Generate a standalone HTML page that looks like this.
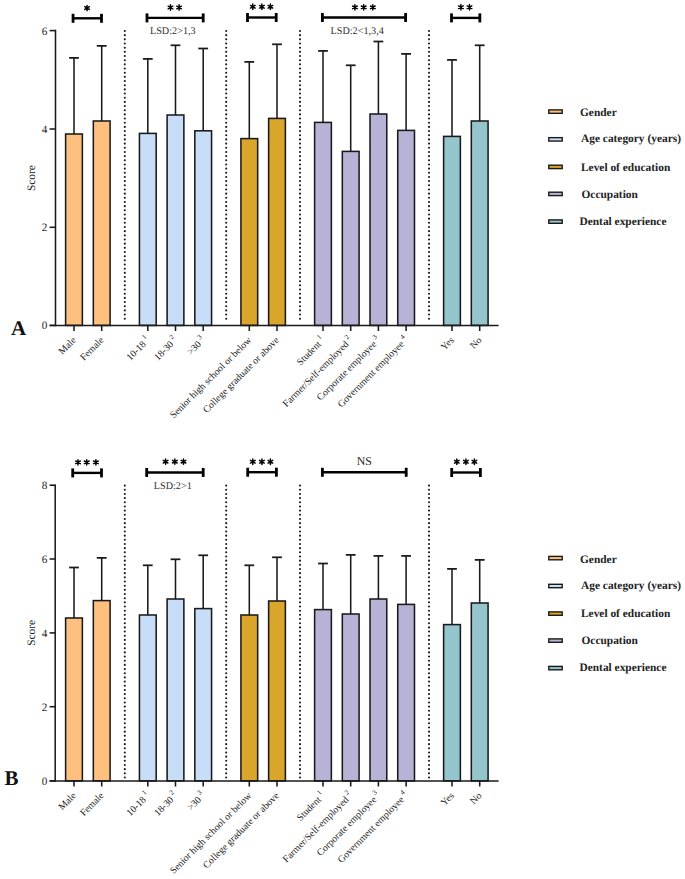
<!DOCTYPE html>
<html><head><meta charset="utf-8"><title>Score chart</title>
<style>
html,body{margin:0;padding:0;background:#fff;width:685px;height:879px;overflow:hidden;}
svg{display:block;}
text{font-family:"Liberation Serif",serif;text-rendering:geometricPrecision;}
.tk{font-size:11.2px;fill:#1e1e1e;}
.sc{font-size:11.4px;fill:#151515;}
.pl{font-size:21px;font-weight:bold;fill:#111;}
.st{font-family:"Liberation Sans",sans-serif;font-size:14px;font-weight:bold;fill:#111;letter-spacing:1.6px;}
.ns{font-size:11.8px;fill:#222;}
.lsd{font-size:10.2px;fill:#333;}
.xl{font-size:9.8px;fill:#222;}
.sup{font-size:7px;}
.lg{font-size:11.4px;font-weight:bold;fill:#222;}
</style></head>
<body>
<svg width="685" height="879" viewBox="0 0 685 879">
<line x1="124.8" y1="31.00" x2="124.8" y2="322.40" stroke="#1a1a1a" stroke-width="2.1" stroke-linecap="round" stroke-dasharray="0 4.17"/>
<line x1="226.2" y1="31.00" x2="226.2" y2="322.40" stroke="#1a1a1a" stroke-width="2.1" stroke-linecap="round" stroke-dasharray="0 4.17"/>
<line x1="300.0" y1="31.00" x2="300.0" y2="322.40" stroke="#1a1a1a" stroke-width="2.1" stroke-linecap="round" stroke-dasharray="0 4.17"/>
<line x1="429.0" y1="31.00" x2="429.0" y2="322.40" stroke="#1a1a1a" stroke-width="2.1" stroke-linecap="round" stroke-dasharray="0 4.17"/>
<line x1="74.00" y1="57.90" x2="74.00" y2="134.00" stroke="#1a1a1a" stroke-width="1.55"/>
<line x1="69.10" y1="57.90" x2="78.90" y2="57.90" stroke="#1a1a1a" stroke-width="1.75"/>
<rect x="65.62" y="134.00" width="16.75" height="191.40" fill="#FEC07F" stroke="#1a1a1a" stroke-width="1.55"/>
<line x1="74.00" y1="325.40" x2="74.00" y2="331.00" stroke="#1a1a1a" stroke-width="1.55"/>
<line x1="101.70" y1="45.90" x2="101.70" y2="121.00" stroke="#1a1a1a" stroke-width="1.55"/>
<line x1="96.80" y1="45.90" x2="106.60" y2="45.90" stroke="#1a1a1a" stroke-width="1.75"/>
<rect x="93.33" y="121.00" width="16.75" height="204.40" fill="#FEC07F" stroke="#1a1a1a" stroke-width="1.55"/>
<line x1="101.70" y1="325.40" x2="101.70" y2="331.00" stroke="#1a1a1a" stroke-width="1.55"/>
<line x1="147.80" y1="58.90" x2="147.80" y2="133.40" stroke="#1a1a1a" stroke-width="1.55"/>
<line x1="142.90" y1="58.90" x2="152.70" y2="58.90" stroke="#1a1a1a" stroke-width="1.75"/>
<rect x="139.43" y="133.40" width="16.75" height="192.00" fill="#C8DDF7" stroke="#1a1a1a" stroke-width="1.55"/>
<line x1="147.80" y1="325.40" x2="147.80" y2="331.00" stroke="#1a1a1a" stroke-width="1.55"/>
<line x1="175.50" y1="45.30" x2="175.50" y2="115.00" stroke="#1a1a1a" stroke-width="1.55"/>
<line x1="170.60" y1="45.30" x2="180.40" y2="45.30" stroke="#1a1a1a" stroke-width="1.75"/>
<rect x="167.12" y="115.00" width="16.75" height="210.40" fill="#C8DDF7" stroke="#1a1a1a" stroke-width="1.55"/>
<line x1="175.50" y1="325.40" x2="175.50" y2="331.00" stroke="#1a1a1a" stroke-width="1.55"/>
<line x1="203.20" y1="48.50" x2="203.20" y2="130.80" stroke="#1a1a1a" stroke-width="1.55"/>
<line x1="198.30" y1="48.50" x2="208.10" y2="48.50" stroke="#1a1a1a" stroke-width="1.75"/>
<rect x="194.82" y="130.80" width="16.75" height="194.60" fill="#C8DDF7" stroke="#1a1a1a" stroke-width="1.55"/>
<line x1="203.20" y1="325.40" x2="203.20" y2="331.00" stroke="#1a1a1a" stroke-width="1.55"/>
<line x1="249.30" y1="61.90" x2="249.30" y2="138.60" stroke="#1a1a1a" stroke-width="1.55"/>
<line x1="244.40" y1="61.90" x2="254.20" y2="61.90" stroke="#1a1a1a" stroke-width="1.75"/>
<rect x="240.93" y="138.60" width="16.75" height="186.80" fill="#D9A52A" stroke="#1a1a1a" stroke-width="1.55"/>
<line x1="249.30" y1="325.40" x2="249.30" y2="331.00" stroke="#1a1a1a" stroke-width="1.55"/>
<line x1="277.00" y1="44.30" x2="277.00" y2="118.40" stroke="#1a1a1a" stroke-width="1.55"/>
<line x1="272.10" y1="44.30" x2="281.90" y2="44.30" stroke="#1a1a1a" stroke-width="1.75"/>
<rect x="268.62" y="118.40" width="16.75" height="207.00" fill="#D9A52A" stroke="#1a1a1a" stroke-width="1.55"/>
<line x1="277.00" y1="325.40" x2="277.00" y2="331.00" stroke="#1a1a1a" stroke-width="1.55"/>
<line x1="323.00" y1="50.90" x2="323.00" y2="122.40" stroke="#1a1a1a" stroke-width="1.55"/>
<line x1="318.10" y1="50.90" x2="327.90" y2="50.90" stroke="#1a1a1a" stroke-width="1.75"/>
<rect x="314.62" y="122.40" width="16.75" height="203.00" fill="#B7B3D7" stroke="#1a1a1a" stroke-width="1.55"/>
<line x1="323.00" y1="325.40" x2="323.00" y2="331.00" stroke="#1a1a1a" stroke-width="1.55"/>
<line x1="350.70" y1="65.30" x2="350.70" y2="151.40" stroke="#1a1a1a" stroke-width="1.55"/>
<line x1="345.80" y1="65.30" x2="355.60" y2="65.30" stroke="#1a1a1a" stroke-width="1.75"/>
<rect x="342.32" y="151.40" width="16.75" height="174.00" fill="#B7B3D7" stroke="#1a1a1a" stroke-width="1.55"/>
<line x1="350.70" y1="325.40" x2="350.70" y2="331.00" stroke="#1a1a1a" stroke-width="1.55"/>
<line x1="378.40" y1="41.50" x2="378.40" y2="114.00" stroke="#1a1a1a" stroke-width="1.55"/>
<line x1="373.50" y1="41.50" x2="383.30" y2="41.50" stroke="#1a1a1a" stroke-width="1.75"/>
<rect x="370.02" y="114.00" width="16.75" height="211.40" fill="#B7B3D7" stroke="#1a1a1a" stroke-width="1.55"/>
<line x1="378.40" y1="325.40" x2="378.40" y2="331.00" stroke="#1a1a1a" stroke-width="1.55"/>
<line x1="406.10" y1="53.90" x2="406.10" y2="130.40" stroke="#1a1a1a" stroke-width="1.55"/>
<line x1="401.20" y1="53.90" x2="411.00" y2="53.90" stroke="#1a1a1a" stroke-width="1.75"/>
<rect x="397.73" y="130.40" width="16.75" height="195.00" fill="#B7B3D7" stroke="#1a1a1a" stroke-width="1.55"/>
<line x1="406.10" y1="325.40" x2="406.10" y2="331.00" stroke="#1a1a1a" stroke-width="1.55"/>
<line x1="452.00" y1="59.90" x2="452.00" y2="136.40" stroke="#1a1a1a" stroke-width="1.55"/>
<line x1="447.10" y1="59.90" x2="456.90" y2="59.90" stroke="#1a1a1a" stroke-width="1.75"/>
<rect x="443.62" y="136.40" width="16.75" height="189.00" fill="#94C5CC" stroke="#1a1a1a" stroke-width="1.55"/>
<line x1="452.00" y1="325.40" x2="452.00" y2="331.00" stroke="#1a1a1a" stroke-width="1.55"/>
<line x1="479.70" y1="45.30" x2="479.70" y2="121.00" stroke="#1a1a1a" stroke-width="1.55"/>
<line x1="474.80" y1="45.30" x2="484.60" y2="45.30" stroke="#1a1a1a" stroke-width="1.75"/>
<rect x="471.32" y="121.00" width="16.75" height="204.40" fill="#94C5CC" stroke="#1a1a1a" stroke-width="1.55"/>
<line x1="479.70" y1="325.40" x2="479.70" y2="331.00" stroke="#1a1a1a" stroke-width="1.55"/>
<line x1="55.5" y1="29.80" x2="55.5" y2="326.20" stroke="#1a1a1a" stroke-width="1.55"/>
<line x1="49.6" y1="325.40" x2="498.6" y2="325.40" stroke="#1a1a1a" stroke-width="1.55"/>
<line x1="49.6" y1="325.40" x2="55.50" y2="325.40" stroke="#1a1a1a" stroke-width="1.55"/>
<text x="47.30" y="329.30" text-anchor="end" class="tk">0</text>
<line x1="49.6" y1="227.30" x2="55.50" y2="227.30" stroke="#1a1a1a" stroke-width="1.55"/>
<text x="47.30" y="231.20" text-anchor="end" class="tk">2</text>
<line x1="49.6" y1="129.00" x2="55.50" y2="129.00" stroke="#1a1a1a" stroke-width="1.55"/>
<text x="47.30" y="132.90" text-anchor="end" class="tk">4</text>
<line x1="49.6" y1="30.60" x2="55.50" y2="30.60" stroke="#1a1a1a" stroke-width="1.55"/>
<text x="47.30" y="34.50" text-anchor="end" class="tk">6</text>
<text transform="translate(35.0 178.10) rotate(-90)" text-anchor="middle" class="sc">Score</text>
<text x="11.0" y="334.7" class="pl">A</text>
<line x1="73.05" y1="18.30" x2="101.50" y2="18.30" stroke="#000" stroke-width="2.4"/>
<line x1="73.05" y1="13.80" x2="73.05" y2="22.80" stroke="#000" stroke-width="2.8"/>
<line x1="101.50" y1="13.80" x2="101.50" y2="22.80" stroke="#000" stroke-width="2.8"/>
<path d="M87.05 5.35L87.05 10.75M84.71 6.70L89.39 9.40M84.71 9.40L89.39 6.70" stroke="#000" stroke-width="1.45" stroke-linecap="round"/><circle cx="87.05" cy="8.05" r="1.0" fill="#000"/>
<line x1="147.00" y1="17.90" x2="203.20" y2="17.90" stroke="#000" stroke-width="2.4"/>
<line x1="147.00" y1="13.40" x2="147.00" y2="22.40" stroke="#000" stroke-width="2.8"/>
<line x1="203.20" y1="13.40" x2="203.20" y2="22.40" stroke="#000" stroke-width="2.8"/>
<path d="M170.50 4.80L170.50 10.20M168.16 6.15L172.84 8.85M168.16 8.85L172.84 6.15" stroke="#000" stroke-width="1.45" stroke-linecap="round"/><circle cx="170.50" cy="7.50" r="1.0" fill="#000"/>
<path d="M179.10 4.80L179.10 10.20M176.76 6.15L181.44 8.85M176.76 8.85L181.44 6.15" stroke="#000" stroke-width="1.45" stroke-linecap="round"/><circle cx="179.10" cy="7.50" r="1.0" fill="#000"/>
<line x1="247.50" y1="17.50" x2="276.20" y2="17.50" stroke="#000" stroke-width="2.4"/>
<line x1="247.50" y1="13.00" x2="247.50" y2="22.00" stroke="#000" stroke-width="2.8"/>
<line x1="276.20" y1="13.00" x2="276.20" y2="22.00" stroke="#000" stroke-width="2.8"/>
<path d="M252.80 4.05L252.80 9.45M250.46 5.40L255.14 8.10M250.46 8.10L255.14 5.40" stroke="#000" stroke-width="1.45" stroke-linecap="round"/><circle cx="252.80" cy="6.75" r="1.0" fill="#000"/>
<path d="M261.90 4.05L261.90 9.45M259.56 5.40L264.24 8.10M259.56 8.10L264.24 5.40" stroke="#000" stroke-width="1.45" stroke-linecap="round"/><circle cx="261.90" cy="6.75" r="1.0" fill="#000"/>
<path d="M270.40 4.05L270.40 9.45M268.06 5.40L272.74 8.10M268.06 8.10L272.74 5.40" stroke="#000" stroke-width="1.45" stroke-linecap="round"/><circle cx="270.40" cy="6.75" r="1.0" fill="#000"/>
<line x1="322.40" y1="17.45" x2="405.60" y2="17.45" stroke="#000" stroke-width="2.4"/>
<line x1="322.40" y1="12.95" x2="322.40" y2="21.95" stroke="#000" stroke-width="2.8"/>
<line x1="405.60" y1="12.95" x2="405.60" y2="21.95" stroke="#000" stroke-width="2.8"/>
<path d="M354.90 4.65L354.90 10.05M352.56 6.00L357.24 8.70M352.56 8.70L357.24 6.00" stroke="#000" stroke-width="1.45" stroke-linecap="round"/><circle cx="354.90" cy="7.35" r="1.0" fill="#000"/>
<path d="M363.70 4.65L363.70 10.05M361.36 6.00L366.04 8.70M361.36 8.70L366.04 6.00" stroke="#000" stroke-width="1.45" stroke-linecap="round"/><circle cx="363.70" cy="7.35" r="1.0" fill="#000"/>
<path d="M372.80 4.65L372.80 10.05M370.46 6.00L375.14 8.70M370.46 8.70L375.14 6.00" stroke="#000" stroke-width="1.45" stroke-linecap="round"/><circle cx="372.80" cy="7.35" r="1.0" fill="#000"/>
<line x1="451.50" y1="17.90" x2="479.85" y2="17.90" stroke="#000" stroke-width="2.4"/>
<line x1="451.50" y1="13.40" x2="451.50" y2="22.40" stroke="#000" stroke-width="2.8"/>
<line x1="479.85" y1="13.40" x2="479.85" y2="22.40" stroke="#000" stroke-width="2.8"/>
<path d="M460.90 4.55L460.90 9.95M458.56 5.90L463.24 8.60M458.56 8.60L463.24 5.90" stroke="#000" stroke-width="1.45" stroke-linecap="round"/><circle cx="460.90" cy="7.25" r="1.0" fill="#000"/>
<path d="M469.50 4.55L469.50 9.95M467.16 5.90L471.84 8.60M467.16 8.60L471.84 5.90" stroke="#000" stroke-width="1.45" stroke-linecap="round"/><circle cx="469.50" cy="7.25" r="1.0" fill="#000"/>
<text x="172.80" y="33.60" text-anchor="middle" class="lsd">LSD:2&gt;1,3</text>
<text x="357.20" y="33.60" text-anchor="middle" class="lsd">LSD:2&lt;1,3,4</text>
<text transform="translate(76.60 340.70) rotate(-45)" text-anchor="end" class="xl">Male</text>
<text transform="translate(104.30 340.70) rotate(-45)" text-anchor="end" class="xl">Female</text>
<text transform="translate(150.40 340.70) rotate(-45)" text-anchor="end" class="xl">10-18<tspan class="sup" dx="2.2" dy="-5">1</tspan></text>
<text transform="translate(178.10 340.70) rotate(-45)" text-anchor="end" class="xl">18-30<tspan class="sup" dx="2.2" dy="-5">2</tspan></text>
<text transform="translate(205.80 340.70) rotate(-45)" text-anchor="end" class="xl">>30<tspan class="sup" dx="2.2" dy="-5">3</tspan></text>
<text transform="translate(251.90 340.70) rotate(-45)" text-anchor="end" class="xl">Senior high school or below</text>
<text transform="translate(279.60 340.70) rotate(-45)" text-anchor="end" class="xl">College graduate or above</text>
<text transform="translate(325.60 340.70) rotate(-45)" text-anchor="end" class="xl">Student<tspan class="sup" dx="2.2" dy="-5">1</tspan></text>
<text transform="translate(353.30 340.70) rotate(-45)" text-anchor="end" class="xl">Farmer/Self-employed<tspan class="sup" dx="2.2" dy="-5">2</tspan></text>
<text transform="translate(381.00 340.70) rotate(-45)" text-anchor="end" class="xl">Corporate employee<tspan class="sup" dx="2.2" dy="-5">3</tspan></text>
<text transform="translate(408.70 340.70) rotate(-45)" text-anchor="end" class="xl">Government employee<tspan class="sup" dx="2.2" dy="-5">4</tspan></text>
<text transform="translate(454.60 340.70) rotate(-45)" text-anchor="end" class="xl">Yes</text>
<text transform="translate(482.30 340.70) rotate(-45)" text-anchor="end" class="xl">No</text>
<rect x="548.8" y="109.90" width="13.4" height="3.4" fill="#FEC07F" stroke="#1a1a1a" stroke-width="1.4"/>
<text x="580.00" y="116.10" class="lg">Gender</text>
<rect x="548.8" y="137.65" width="13.4" height="3.4" fill="#C8DDF7" stroke="#1a1a1a" stroke-width="1.4"/>
<text x="581.00" y="142.10" class="lg">Age category (years)</text>
<rect x="548.8" y="165.20" width="13.4" height="3.4" fill="#D9A52A" stroke="#1a1a1a" stroke-width="1.4"/>
<text x="581.00" y="171.10" class="lg">Level of education</text>
<rect x="548.8" y="192.20" width="13.4" height="3.4" fill="#B7B3D7" stroke="#1a1a1a" stroke-width="1.4"/>
<text x="581.50" y="197.60" class="lg">Occupation</text>
<rect x="548.8" y="219.90" width="13.4" height="3.4" fill="#94C5CC" stroke="#1a1a1a" stroke-width="1.4"/>
<text x="579.50" y="224.90" class="lg">Dental experience</text>
<line x1="124.8" y1="485.60" x2="124.8" y2="777.90" stroke="#1a1a1a" stroke-width="2.1" stroke-linecap="round" stroke-dasharray="0 4.17"/>
<line x1="226.2" y1="485.60" x2="226.2" y2="777.90" stroke="#1a1a1a" stroke-width="2.1" stroke-linecap="round" stroke-dasharray="0 4.17"/>
<line x1="300.0" y1="485.60" x2="300.0" y2="777.90" stroke="#1a1a1a" stroke-width="2.1" stroke-linecap="round" stroke-dasharray="0 4.17"/>
<line x1="429.0" y1="485.60" x2="429.0" y2="777.90" stroke="#1a1a1a" stroke-width="2.1" stroke-linecap="round" stroke-dasharray="0 4.17"/>
<line x1="74.00" y1="567.50" x2="74.00" y2="618.00" stroke="#1a1a1a" stroke-width="1.55"/>
<line x1="69.10" y1="567.50" x2="78.90" y2="567.50" stroke="#1a1a1a" stroke-width="1.75"/>
<rect x="65.62" y="618.00" width="16.75" height="162.90" fill="#FEC07F" stroke="#1a1a1a" stroke-width="1.55"/>
<line x1="74.00" y1="780.90" x2="74.00" y2="786.50" stroke="#1a1a1a" stroke-width="1.55"/>
<line x1="101.70" y1="557.90" x2="101.70" y2="600.60" stroke="#1a1a1a" stroke-width="1.55"/>
<line x1="96.80" y1="557.90" x2="106.60" y2="557.90" stroke="#1a1a1a" stroke-width="1.75"/>
<rect x="93.33" y="600.60" width="16.75" height="180.30" fill="#FEC07F" stroke="#1a1a1a" stroke-width="1.55"/>
<line x1="101.70" y1="780.90" x2="101.70" y2="786.50" stroke="#1a1a1a" stroke-width="1.55"/>
<line x1="147.80" y1="565.30" x2="147.80" y2="615.00" stroke="#1a1a1a" stroke-width="1.55"/>
<line x1="142.90" y1="565.30" x2="152.70" y2="565.30" stroke="#1a1a1a" stroke-width="1.75"/>
<rect x="139.43" y="615.00" width="16.75" height="165.90" fill="#C8DDF7" stroke="#1a1a1a" stroke-width="1.55"/>
<line x1="147.80" y1="780.90" x2="147.80" y2="786.50" stroke="#1a1a1a" stroke-width="1.55"/>
<line x1="175.50" y1="559.30" x2="175.50" y2="599.00" stroke="#1a1a1a" stroke-width="1.55"/>
<line x1="170.60" y1="559.30" x2="180.40" y2="559.30" stroke="#1a1a1a" stroke-width="1.75"/>
<rect x="167.12" y="599.00" width="16.75" height="181.90" fill="#C8DDF7" stroke="#1a1a1a" stroke-width="1.55"/>
<line x1="175.50" y1="780.90" x2="175.50" y2="786.50" stroke="#1a1a1a" stroke-width="1.55"/>
<line x1="203.20" y1="555.30" x2="203.20" y2="608.60" stroke="#1a1a1a" stroke-width="1.55"/>
<line x1="198.30" y1="555.30" x2="208.10" y2="555.30" stroke="#1a1a1a" stroke-width="1.75"/>
<rect x="194.82" y="608.60" width="16.75" height="172.30" fill="#C8DDF7" stroke="#1a1a1a" stroke-width="1.55"/>
<line x1="203.20" y1="780.90" x2="203.20" y2="786.50" stroke="#1a1a1a" stroke-width="1.55"/>
<line x1="249.30" y1="565.30" x2="249.30" y2="615.00" stroke="#1a1a1a" stroke-width="1.55"/>
<line x1="244.40" y1="565.30" x2="254.20" y2="565.30" stroke="#1a1a1a" stroke-width="1.75"/>
<rect x="240.93" y="615.00" width="16.75" height="165.90" fill="#D9A52A" stroke="#1a1a1a" stroke-width="1.55"/>
<line x1="249.30" y1="780.90" x2="249.30" y2="786.50" stroke="#1a1a1a" stroke-width="1.55"/>
<line x1="277.00" y1="557.30" x2="277.00" y2="601.00" stroke="#1a1a1a" stroke-width="1.55"/>
<line x1="272.10" y1="557.30" x2="281.90" y2="557.30" stroke="#1a1a1a" stroke-width="1.75"/>
<rect x="268.62" y="601.00" width="16.75" height="179.90" fill="#D9A52A" stroke="#1a1a1a" stroke-width="1.55"/>
<line x1="277.00" y1="780.90" x2="277.00" y2="786.50" stroke="#1a1a1a" stroke-width="1.55"/>
<line x1="323.00" y1="563.50" x2="323.00" y2="609.60" stroke="#1a1a1a" stroke-width="1.55"/>
<line x1="318.10" y1="563.50" x2="327.90" y2="563.50" stroke="#1a1a1a" stroke-width="1.75"/>
<rect x="314.62" y="609.60" width="16.75" height="171.30" fill="#B7B3D7" stroke="#1a1a1a" stroke-width="1.55"/>
<line x1="323.00" y1="780.90" x2="323.00" y2="786.50" stroke="#1a1a1a" stroke-width="1.55"/>
<line x1="350.70" y1="554.90" x2="350.70" y2="614.00" stroke="#1a1a1a" stroke-width="1.55"/>
<line x1="345.80" y1="554.90" x2="355.60" y2="554.90" stroke="#1a1a1a" stroke-width="1.75"/>
<rect x="342.32" y="614.00" width="16.75" height="166.90" fill="#B7B3D7" stroke="#1a1a1a" stroke-width="1.55"/>
<line x1="350.70" y1="780.90" x2="350.70" y2="786.50" stroke="#1a1a1a" stroke-width="1.55"/>
<line x1="378.40" y1="555.90" x2="378.40" y2="599.00" stroke="#1a1a1a" stroke-width="1.55"/>
<line x1="373.50" y1="555.90" x2="383.30" y2="555.90" stroke="#1a1a1a" stroke-width="1.75"/>
<rect x="370.02" y="599.00" width="16.75" height="181.90" fill="#B7B3D7" stroke="#1a1a1a" stroke-width="1.55"/>
<line x1="378.40" y1="780.90" x2="378.40" y2="786.50" stroke="#1a1a1a" stroke-width="1.55"/>
<line x1="406.10" y1="555.90" x2="406.10" y2="604.40" stroke="#1a1a1a" stroke-width="1.55"/>
<line x1="401.20" y1="555.90" x2="411.00" y2="555.90" stroke="#1a1a1a" stroke-width="1.75"/>
<rect x="397.73" y="604.40" width="16.75" height="176.50" fill="#B7B3D7" stroke="#1a1a1a" stroke-width="1.55"/>
<line x1="406.10" y1="780.90" x2="406.10" y2="786.50" stroke="#1a1a1a" stroke-width="1.55"/>
<line x1="452.00" y1="568.90" x2="452.00" y2="624.60" stroke="#1a1a1a" stroke-width="1.55"/>
<line x1="447.10" y1="568.90" x2="456.90" y2="568.90" stroke="#1a1a1a" stroke-width="1.75"/>
<rect x="443.62" y="624.60" width="16.75" height="156.30" fill="#94C5CC" stroke="#1a1a1a" stroke-width="1.55"/>
<line x1="452.00" y1="780.90" x2="452.00" y2="786.50" stroke="#1a1a1a" stroke-width="1.55"/>
<line x1="479.70" y1="559.90" x2="479.70" y2="603.00" stroke="#1a1a1a" stroke-width="1.55"/>
<line x1="474.80" y1="559.90" x2="484.60" y2="559.90" stroke="#1a1a1a" stroke-width="1.75"/>
<rect x="471.32" y="603.00" width="16.75" height="177.90" fill="#94C5CC" stroke="#1a1a1a" stroke-width="1.55"/>
<line x1="479.70" y1="780.90" x2="479.70" y2="786.50" stroke="#1a1a1a" stroke-width="1.55"/>
<line x1="55.2" y1="484.40" x2="55.2" y2="781.70" stroke="#1a1a1a" stroke-width="1.55"/>
<line x1="49.6" y1="780.90" x2="498.6" y2="780.90" stroke="#1a1a1a" stroke-width="1.55"/>
<line x1="49.6" y1="780.90" x2="55.20" y2="780.90" stroke="#1a1a1a" stroke-width="1.55"/>
<text x="47.30" y="784.80" text-anchor="end" class="tk">0</text>
<line x1="49.6" y1="706.70" x2="55.20" y2="706.70" stroke="#1a1a1a" stroke-width="1.55"/>
<text x="47.30" y="710.60" text-anchor="end" class="tk">2</text>
<line x1="49.6" y1="632.90" x2="55.20" y2="632.90" stroke="#1a1a1a" stroke-width="1.55"/>
<text x="47.30" y="636.80" text-anchor="end" class="tk">4</text>
<line x1="49.6" y1="559.00" x2="55.20" y2="559.00" stroke="#1a1a1a" stroke-width="1.55"/>
<text x="47.30" y="562.90" text-anchor="end" class="tk">6</text>
<line x1="49.6" y1="485.20" x2="55.20" y2="485.20" stroke="#1a1a1a" stroke-width="1.55"/>
<text x="47.30" y="489.10" text-anchor="end" class="tk">8</text>
<text transform="translate(35.0 632.90) rotate(-90)" text-anchor="middle" class="sc">Score</text>
<text x="4.4" y="785.0" class="pl">B</text>
<line x1="72.70" y1="472.90" x2="101.50" y2="472.90" stroke="#000" stroke-width="2.4"/>
<line x1="72.70" y1="468.40" x2="72.70" y2="477.40" stroke="#000" stroke-width="2.8"/>
<line x1="101.50" y1="468.40" x2="101.50" y2="477.40" stroke="#000" stroke-width="2.8"/>
<path d="M78.00 459.65L78.00 465.05M75.66 461.00L80.34 463.70M75.66 463.70L80.34 461.00" stroke="#000" stroke-width="1.45" stroke-linecap="round"/><circle cx="78.00" cy="462.35" r="1.0" fill="#000"/>
<path d="M86.70 459.65L86.70 465.05M84.36 461.00L89.04 463.70M84.36 463.70L89.04 461.00" stroke="#000" stroke-width="1.45" stroke-linecap="round"/><circle cx="86.70" cy="462.35" r="1.0" fill="#000"/>
<path d="M95.90 459.65L95.90 465.05M93.56 461.00L98.24 463.70M93.56 463.70L98.24 461.00" stroke="#000" stroke-width="1.45" stroke-linecap="round"/><circle cx="95.90" cy="462.35" r="1.0" fill="#000"/>
<line x1="146.70" y1="472.45" x2="203.20" y2="472.45" stroke="#000" stroke-width="2.4"/>
<line x1="146.70" y1="467.95" x2="146.70" y2="476.95" stroke="#000" stroke-width="2.8"/>
<line x1="203.20" y1="467.95" x2="203.20" y2="476.95" stroke="#000" stroke-width="2.8"/>
<path d="M165.60 458.95L165.60 464.35M163.26 460.30L167.94 463.00M163.26 463.00L167.94 460.30" stroke="#000" stroke-width="1.45" stroke-linecap="round"/><circle cx="165.60" cy="461.65" r="1.0" fill="#000"/>
<path d="M174.85 458.95L174.85 464.35M172.51 460.30L177.19 463.00M172.51 463.00L177.19 460.30" stroke="#000" stroke-width="1.45" stroke-linecap="round"/><circle cx="174.85" cy="461.65" r="1.0" fill="#000"/>
<path d="M183.50 458.95L183.50 464.35M181.16 460.30L185.84 463.00M181.16 463.00L185.84 460.30" stroke="#000" stroke-width="1.45" stroke-linecap="round"/><circle cx="183.50" cy="461.65" r="1.0" fill="#000"/>
<line x1="247.70" y1="472.20" x2="276.40" y2="472.20" stroke="#000" stroke-width="2.4"/>
<line x1="247.70" y1="467.70" x2="247.70" y2="476.70" stroke="#000" stroke-width="2.8"/>
<line x1="276.40" y1="467.70" x2="276.40" y2="476.70" stroke="#000" stroke-width="2.8"/>
<path d="M252.80 459.00L252.80 464.40M250.46 460.35L255.14 463.05M250.46 463.05L255.14 460.35" stroke="#000" stroke-width="1.45" stroke-linecap="round"/><circle cx="252.80" cy="461.70" r="1.0" fill="#000"/>
<path d="M261.90 459.00L261.90 464.40M259.56 460.35L264.24 463.05M259.56 463.05L264.24 460.35" stroke="#000" stroke-width="1.45" stroke-linecap="round"/><circle cx="261.90" cy="461.70" r="1.0" fill="#000"/>
<path d="M270.40 459.00L270.40 464.40M268.06 460.35L272.74 463.05M268.06 463.05L272.74 460.35" stroke="#000" stroke-width="1.45" stroke-linecap="round"/><circle cx="270.40" cy="461.70" r="1.0" fill="#000"/>
<line x1="322.40" y1="472.30" x2="406.20" y2="472.30" stroke="#000" stroke-width="2.4"/>
<line x1="322.40" y1="467.80" x2="322.40" y2="476.80" stroke="#000" stroke-width="2.8"/>
<line x1="406.20" y1="467.80" x2="406.20" y2="476.80" stroke="#000" stroke-width="2.8"/>
<text x="364.30" y="465.30" text-anchor="middle" class="ns">NS</text>
<line x1="451.70" y1="472.50" x2="480.40" y2="472.50" stroke="#000" stroke-width="2.4"/>
<line x1="451.70" y1="468.00" x2="451.70" y2="477.00" stroke="#000" stroke-width="2.8"/>
<line x1="480.40" y1="468.00" x2="480.40" y2="477.00" stroke="#000" stroke-width="2.8"/>
<path d="M456.80 459.00L456.80 464.40M454.46 460.35L459.14 463.05M454.46 463.05L459.14 460.35" stroke="#000" stroke-width="1.45" stroke-linecap="round"/><circle cx="456.80" cy="461.70" r="1.0" fill="#000"/>
<path d="M465.90 459.00L465.90 464.40M463.56 460.35L468.24 463.05M463.56 463.05L468.24 460.35" stroke="#000" stroke-width="1.45" stroke-linecap="round"/><circle cx="465.90" cy="461.70" r="1.0" fill="#000"/>
<path d="M474.40 459.00L474.40 464.40M472.06 460.35L476.74 463.05M472.06 463.05L476.74 460.35" stroke="#000" stroke-width="1.45" stroke-linecap="round"/><circle cx="474.40" cy="461.70" r="1.0" fill="#000"/>
<text x="172.80" y="489.40" text-anchor="middle" class="lsd">LSD:2&gt;1</text>
<text transform="translate(76.60 796.20) rotate(-45)" text-anchor="end" class="xl">Male</text>
<text transform="translate(104.30 796.20) rotate(-45)" text-anchor="end" class="xl">Female</text>
<text transform="translate(150.40 796.20) rotate(-45)" text-anchor="end" class="xl">10-18<tspan class="sup" dx="2.2" dy="-5">1</tspan></text>
<text transform="translate(178.10 796.20) rotate(-45)" text-anchor="end" class="xl">18-30<tspan class="sup" dx="2.2" dy="-5">2</tspan></text>
<text transform="translate(205.80 796.20) rotate(-45)" text-anchor="end" class="xl">>30<tspan class="sup" dx="2.2" dy="-5">3</tspan></text>
<text transform="translate(251.90 796.20) rotate(-45)" text-anchor="end" class="xl">Senior high school or below</text>
<text transform="translate(279.60 796.20) rotate(-45)" text-anchor="end" class="xl">College graduate or above</text>
<text transform="translate(325.60 796.20) rotate(-45)" text-anchor="end" class="xl">Student<tspan class="sup" dx="2.2" dy="-5">1</tspan></text>
<text transform="translate(353.30 796.20) rotate(-45)" text-anchor="end" class="xl">Farmer/Self-employed<tspan class="sup" dx="2.2" dy="-5">2</tspan></text>
<text transform="translate(381.00 796.20) rotate(-45)" text-anchor="end" class="xl">Corporate employee<tspan class="sup" dx="2.2" dy="-5">3</tspan></text>
<text transform="translate(408.70 796.20) rotate(-45)" text-anchor="end" class="xl">Government employee<tspan class="sup" dx="2.2" dy="-5">4</tspan></text>
<text transform="translate(454.60 796.20) rotate(-45)" text-anchor="end" class="xl">Yes</text>
<text transform="translate(482.30 796.20) rotate(-45)" text-anchor="end" class="xl">No</text>
<rect x="548.8" y="556.40" width="13.4" height="3.4" fill="#FEC07F" stroke="#1a1a1a" stroke-width="1.4"/>
<text x="580.00" y="562.50" class="lg">Gender</text>
<rect x="548.8" y="584.30" width="13.4" height="3.4" fill="#C8DDF7" stroke="#1a1a1a" stroke-width="1.4"/>
<text x="581.00" y="588.60" class="lg">Age category (years)</text>
<rect x="548.8" y="611.90" width="13.4" height="3.4" fill="#D9A52A" stroke="#1a1a1a" stroke-width="1.4"/>
<text x="581.00" y="617.20" class="lg">Level of education</text>
<rect x="548.8" y="638.90" width="13.4" height="3.4" fill="#B7B3D7" stroke="#1a1a1a" stroke-width="1.4"/>
<text x="581.50" y="644.10" class="lg">Occupation</text>
<rect x="548.8" y="666.40" width="13.4" height="3.4" fill="#94C5CC" stroke="#1a1a1a" stroke-width="1.4"/>
<text x="579.50" y="671.00" class="lg">Dental experience</text>
</svg>
</body></html>
